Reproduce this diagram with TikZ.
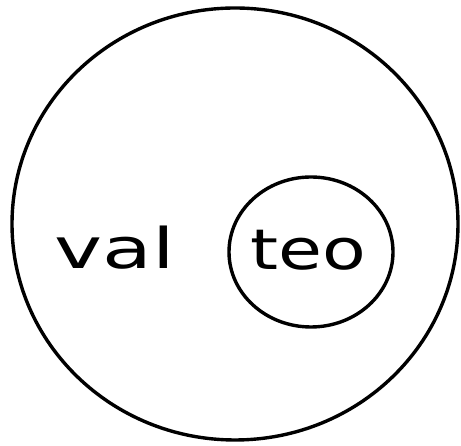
\documentclass[tikz,border=0pt]{standalone}
\usepackage{fontspec}
\setmainfont{DejaVu Sans}
\usetikzlibrary{shapes.geometric}
\begin{document}
\begin{tikzpicture}[x=1pt,y=1pt,
  setline/.style={draw=black, line width=3.4pt, ellipse, inner sep=0pt},
  handtext/.style={font=\fontsize{56}{56}\selectfont, xscale=1.45, inner sep=0pt}]
\useasboundingbox (0,0) rectangle (461,446);
\node[setline, minimum width=446pt, minimum height=432pt] (outer) at (235,222) {};
\node[setline, minimum width=164pt, minimum height=150pt] (inner) at (311,194) {};
\node[handtext] (val) at (115,198) {val};
\node[handtext, xscale=0.88] (teo) at (308,196) {teo};
\end{tikzpicture}
\end{document}
